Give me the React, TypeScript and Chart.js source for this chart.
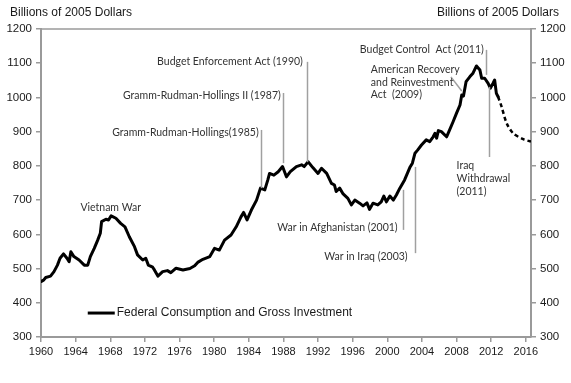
import React, { useEffect, useRef } from "react";
import { Chart, registerables } from "chart.js";

Chart.register(...registerables);

// Federal consumption and gross investment, billions of 2005 dollars
const years = [
  1960.0, 1960.3, 1960.55, 1961.1, 1961.5, 1961.9, 1962.2, 1962.6, 1963.0, 1963.25,
  1963.45, 1963.8, 1964.4, 1965.0, 1965.4, 1965.7, 1966.15, 1966.55, 1966.85, 1967.0,
  1967.5, 1967.8, 1968.1, 1968.65, 1969.2, 1969.7, 1970.2, 1970.8, 1971.15, 1971.75,
  1972.1, 1972.4, 1972.9, 1973.1, 1973.5, 1974.05, 1974.6, 1975.0, 1975.6, 1976.4,
  1977.2, 1977.75, 1978.1, 1978.7, 1979.5, 1980.05, 1980.6, 1981.2, 1981.95, 1982.55,
  1983.1, 1983.4, 1983.8, 1984.3, 1984.9, 1985.35, 1985.85, 1986.2, 1986.4, 1986.9,
  1987.4, 1987.9, 1988.35, 1988.8, 1989.5, 1990.1, 1990.4, 1990.85, 1991.4, 1992.0,
  1992.4, 1993.0, 1993.55, 1993.9, 1994.1, 1994.5, 1994.9, 1995.45, 1995.85, 1996.25,
  1996.8, 1997.2, 1997.65, 1997.95, 1998.35, 1998.9, 1999.3, 1999.6, 1999.9, 2000.3,
  2000.7, 2001.05, 2001.45, 2002.0, 2002.6, 2002.9, 2003.2, 2003.5, 2003.95, 2004.5,
  2004.9, 2005.3, 2005.5, 2005.7, 2005.9, 2006.25, 2006.85, 2007.2, 2007.6, 2008.0,
  2008.4, 2008.6, 2008.8, 2009.1, 2009.55, 2009.9, 2010.3, 2010.7, 2010.9, 2011.25,
  2011.65, 2011.9, 2012.2, 2012.4, 2012.6, 2012.8,
];
const values = [
  462, 466, 474, 478, 491, 510, 530, 543, 530, 520,
  549, 535, 525, 510, 510, 535, 559, 583, 603, 637,
  644, 642, 654, 647, 632, 622, 593, 564, 540, 525,
  530, 510, 504, 496, 478, 491, 494, 488, 501, 496,
  500, 508, 518, 527, 535, 559, 554, 583, 598, 622,
  651, 664, 642, 671, 700, 735, 730, 759, 778, 773,
  783, 798, 768, 783, 798, 803, 798, 812, 795, 778,
  793, 778, 749, 744, 725, 735, 718, 705, 686, 700,
  691, 683, 692, 673, 691, 686, 695, 712, 695, 712,
  700, 715, 735, 759, 795, 808, 837, 846, 861, 876,
  871, 885, 895, 881, 903, 900, 885, 905, 929, 954,
  978, 1007, 1004, 1046, 1061, 1071, 1092, 1080, 1056, 1056,
  1041, 1027, 1041, 1051, 1012, 1002,
];
// Projection (dashed)
const projYears = [2012.8, 2013.2, 2013.8, 2014.55, 2015.7, 2016.6];
const projValues = [1002, 973, 924, 895, 878, 871];

const xTickYears = [1960, 1964, 1968, 1972, 1976, 1980, 1984, 1988, 1992, 1996, 2000, 2004, 2008, 2012, 2016];
const yTickValues = [300, 400, 500, 600, 700, 800, 900, 1000, 1100, 1200];

const axisTitle = "Billions of 2005 Dollars";
const seriesName = "Federal Consumption and Gross Investment";

// Event markers: [year, topValue, bottomValue]
const markerLines: [number, number, number][] = [
  [1985.4, 905, 735],
  [1987.95, 1013, 808],
  [1990.75, 1104, 811],
  [2001.8, 730, 613],
  [2003.2, 797, 545],
  [2011.45, 1139, 1066],
  [2011.7, 1031, 826],
];
// Leader line for ARRA: [x1, y1, x2, y2]
const leaderLine = [2007.35, 1060, 2008.6, 1019];

// Text labels: [text, year, value, align]
const eventLabels: [string, number, number, CanvasTextAlign][] = [
  ["Budget Enforcement Act (1990)", 1990.25, 1104, "right"],
  ["Gramm-Rudman-Hollings II (1987)", 1987.7, 1004, "right"],
  ["Gramm-Rudman-Hollings(1985)", 1985.15, 896, "right"],
  ["Vietnam War", 1968.05, 677, "center"],
  ["War in Afghanistan (2001)", 2001.2, 619, "right"],
  ["War in Iraq (2003)", 2002.35, 534, "right"],
  ["Budget Control  Act (2011)", 2011.15, 1139, "right"],
  ["American Recovery", 1998.1, 1080, "left"],
  ["and Reinvestment", 1998.1, 1042, "left"],
  ["Act  (2009)", 1998.1, 1007, "left"],
  ["Iraq", 2008.0, 800, "left"],
  ["Withdrawal", 2008.0, 762, "left"],
  ["(2011)", 2008.0, 724, "left"],
];

const AXIS_COLOR = "#9a9a9a";
const TEXT_COLOR = "#1a1a1a";

const overlayPlugin = {
  id: "overlay",
  afterDatasetsDraw(chart: any) {
    const { ctx, chartArea, scales } = chart;
    const xs = scales.x;
    const ys = scales.y;
    ctx.save();
    // top frame line
    ctx.strokeStyle = AXIS_COLOR;
    ctx.lineWidth = 1.5;
    ctx.beginPath();
    ctx.moveTo(chartArea.left, chartArea.top);
    ctx.lineTo(chartArea.right, chartArea.top);
    ctx.stroke();

    // marker lines
    ctx.strokeStyle = "#a0a0a0";
    ctx.lineWidth = 1.5;
    for (const [yr, top, bot] of markerLines) {
      const px = Math.round(xs.getPixelForValue(yr)) + 0.5;
      ctx.beginPath();
      ctx.moveTo(px, ys.getPixelForValue(top));
      ctx.lineTo(px, ys.getPixelForValue(bot));
      ctx.stroke();
    }
    ctx.beginPath();
    ctx.moveTo(xs.getPixelForValue(leaderLine[0]), ys.getPixelForValue(leaderLine[1]));
    ctx.lineTo(xs.getPixelForValue(leaderLine[2]), ys.getPixelForValue(leaderLine[3]));
    ctx.stroke();

    // labels
    ctx.fillStyle = "#333";
    ctx.font = "10.5px Lato, 'Open Sans', sans-serif";
    ctx.textBaseline = "middle";
    for (const [txt, yr, v, align] of eventLabels) {
      ctx.textAlign = align;
      ctx.fillText(txt, xs.getPixelForValue(yr), ys.getPixelForValue(v));
    }

    // legend
    const ly = ys.getPixelForValue(370);
    const lx = xs.getPixelForValue(1965.4);
    ctx.strokeStyle = "#000";
    ctx.lineWidth = 3;
    ctx.beginPath();
    ctx.moveTo(lx, ly);
    ctx.lineTo(lx + 27, ly);
    ctx.stroke();
    ctx.fillStyle = TEXT_COLOR;
    ctx.font = "12px 'Liberation Sans', Arial, sans-serif";
    ctx.textAlign = "left";
    ctx.fillText(seriesName, lx + 29, ly);

    // axis titles
    ctx.font = "12px 'Liberation Sans', Arial, sans-serif";
    ctx.textAlign = "left";
    ctx.fillText(axisTitle, 10, 13);
    ctx.textAlign = "right";
    ctx.fillText(axisTitle, 559, 13);
    ctx.restore();
  },
};

export default function App() {
  const ref = useRef<HTMLCanvasElement>(null);
  useEffect(() => {
    if (!ref.current) return;
    const tickFont = { family: "'Liberation Sans', Arial, sans-serif", size: 11.5 };
    const yCommon = {
      type: "linear" as const,
      min: 300,
      max: 1200,
      afterBuildTicks: (s: any) => {
        s.ticks = yTickValues.map((v) => ({ value: v }));
      },
      ticks: { color: TEXT_COLOR, font: tickFont, padding: 4, callback: (v: any) => String(v) },
      grid: { drawOnChartArea: false, drawTicks: true, tickLength: 5, color: AXIS_COLOR, lineWidth: 1.5 },
      border: { display: true, color: AXIS_COLOR, width: 2 },
    };
    const chart = new Chart(ref.current, {
      type: "line",
      data: {
        datasets: [
          {
            label: seriesName,
            data: years.map((x, i) => ({ x, y: values[i] })),
            borderColor: "#000",
            borderWidth: 3,
            borderJoinStyle: "round",
            borderCapStyle: "round",
            pointRadius: 0,
            tension: 0,
            yAxisID: "y",
          },
          {
            label: "Projection",
            data: projYears.map((x, i) => ({ x, y: projValues[i] })),
            borderColor: "#000",
            borderWidth: 2.5,
            borderDash: [4, 3],
            pointRadius: 0,
            tension: 0.3,
            yAxisID: "y",
          },
        ],
      },
      options: {
        responsive: false,
        animation: false,
        devicePixelRatio: 1,
        layout: { padding: { top: 29, left: 0, right: 0, bottom: 0 } },
        plugins: { legend: { display: false }, tooltip: { enabled: false } },
        scales: {
          x: {
            type: "linear",
            min: 1960,
            max: 2016.6,
            afterBuildTicks: (s: any) => {
              s.ticks = xTickYears.map((v) => ({ value: v }));
            },
            afterFit: (s: any) => {
              s.height = 46;
            },
            ticks: {
              color: TEXT_COLOR,
              font: { family: "'Liberation Sans', Arial, sans-serif", size: 11 },
              maxRotation: 0,
              autoSkip: false,
              padding: 3,
              callback: (v: any) => String(v),
            },
            grid: { drawOnChartArea: false, drawTicks: true, tickLength: 5, color: AXIS_COLOR, lineWidth: 1.5 },
            border: { display: true, color: AXIS_COLOR, width: 2 },
          },
          y: {
            ...yCommon,
            position: "left",
            afterFit: (s: any) => {
              s.width = 41;
            },
          },
          y2: {
            ...yCommon,
            position: "right",
            afterFit: (s: any) => {
              s.width = 40;
            },
          },
        },
      },
      plugins: [overlayPlugin],
    });
    return () => chart.destroy();
  }, []);
  return (
    <div style={{ position: "absolute", left: 0, top: 0, width: 571, height: 383, background: "#fff" }}>
      <canvas ref={ref} width={571} height={383} />
    </div>
  );
}
